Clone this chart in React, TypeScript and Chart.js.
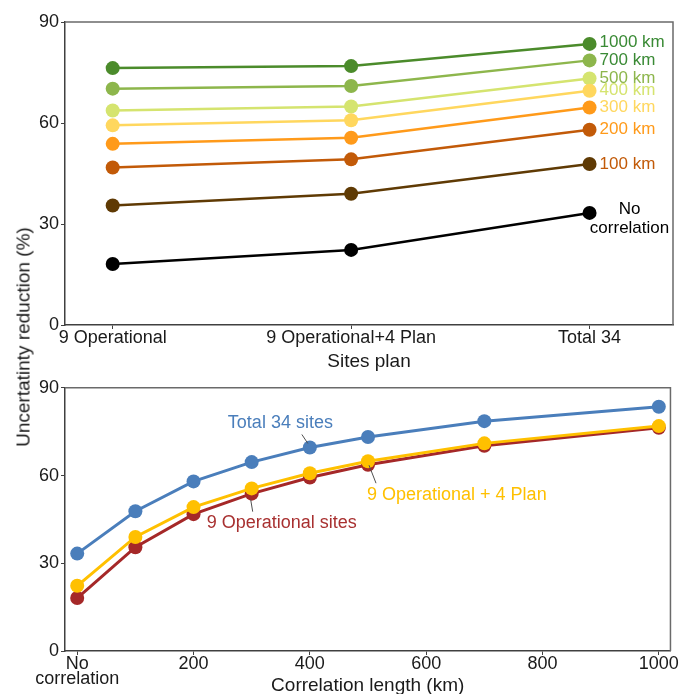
import React, { useEffect, useRef } from 'react';
import { Chart, registerables } from 'chart.js';

Chart.register(...registerables);

// ---------------- data ----------------
const sitePlans = ['9 Operational', '9 Operational+4 Plan', 'Total 34'];
const corrLengthsKm = [0, 100, 200, 300, 400, 500, 700, 1000];
const corrLabels = ['No correlation', '100 km', '200 km', '300 km', '400 km', '500 km', '700 km', '1000 km'];
const reductionOp9 = [18.1, 35.5, 46.8, 53.8, 59.3, 63.7, 70.2, 76.3];
const reductionOp9Plan4 = [22.3, 39.0, 49.2, 55.6, 60.8, 64.9, 71.0, 76.9];
const reductionTotal34 = [33.3, 47.8, 58.0, 64.6, 69.6, 73.2, 78.6, 83.5];
const seriesNames = ['9 Operational sites', '9 Operational + 4 Plan', 'Total 34 sites'];
const yTicks = [0, 30, 60, 90];
const xTicksKm = [0, 200, 400, 600, 800, 1000];
const noCorrTickLabel = ['No', 'correlation'];

// ---------------- styles ----------------
const FONT = '"Liberation Sans", Arial, Helvetica, sans-serif';
const TEXT = '#1a1a1a';
const AXIS = '#404040';
const corrLineColors = ['#000000', '#5f3a04', '#c25a08', '#ff9a1a', '#ffd75e', '#d5e46f', '#8db64c', '#4b8b2b'];
const corrTextColors = ['#000000', '#c25a08', '#ff9a1a', '#ffd75e', '#d5e46f', '#8db64c', '#3a8a35', '#3a8a35'];
const seriesColors = ['#a52828', '#ffc000', '#4a7ebb'];
const seriesTextColors = ['#a83030', '#ffc000', '#4a7ebb'];
// annotation placement relative to an anchor point
const bottomNotes = [
  { s: 2, p: 4, dx: -82, dy: -24, lead: [-8, -13, -2, -4] },
  { s: 0, p: 3, dx: -45, dy: 29, lead: [-1, 6, 1, 18] },
  { s: 1, p: 5, dx: -1, dy: 34, lead: [1, 4, 8, 22] },
];

const boxPlugin = {
  id: 'boxPlugin',
  beforeDatasetsDraw(chart: any) {
    const { ctx, chartArea: a } = chart;
    ctx.save();
    ctx.strokeStyle = '#6a6a6a';
    ctx.lineWidth = 1.5;
    ctx.beginPath();
    ctx.moveTo(a.left, a.top);
    ctx.lineTo(a.right, a.top);
    ctx.lineTo(a.right, a.bottom);
    ctx.stroke();
    ctx.restore();
  },
};

const topLabelPlugin = {
  id: 'topLabels',
  afterDatasetsDraw(chart: any) {
    const { ctx } = chart;
    ctx.save();
    ctx.font = `17px ${FONT}`;
    ctx.textBaseline = 'middle';
    chart.data.datasets.forEach((ds: any, di: number) => {
      const pt = chart.getDatasetMeta(di).data[2];
      if (!pt) return;
      ctx.fillStyle = ds.labelColor;
      if (ds.label === corrLabels[0]) {
        ctx.textAlign = 'center';
        ctx.fillText('No', pt.x + 40, pt.y - 4);
        ctx.fillText('correlation', pt.x + 40, pt.y + 15);
      } else {
        ctx.textAlign = 'left';
        ctx.fillText(ds.label, pt.x + 10, pt.y - (ds.label === corrLabels[7] ? 2 : 0));
      }
    });
    ctx.restore();
  },
};

const bottomLabelPlugin = {
  id: 'bottomLabels',
  afterDatasetsDraw(chart: any) {
    const { ctx } = chart;
    ctx.save();
    bottomNotes.forEach((n) => {
      const pt = chart.getDatasetMeta(n.s).data[n.p];
      if (!pt) return;
      ctx.strokeStyle = '#505050';
      ctx.lineWidth = 1;
      ctx.beginPath();
      ctx.moveTo(pt.x + n.lead[0], pt.y + n.lead[1]);
      ctx.lineTo(pt.x + n.lead[2], pt.y + n.lead[3]);
      ctx.stroke();
      ctx.font = `18px ${FONT}`;
      ctx.textBaseline = 'middle';
      ctx.textAlign = 'left';
      ctx.fillStyle = seriesTextColors[n.s];
      ctx.fillText(seriesNames[n.s], pt.x + n.dx, pt.y + n.dy);
    });
    ctx.restore();
  },
};

const yScale = () => ({
  type: 'linear',
  min: 0,
  max: 90,
  afterFit: (s: any) => {
    s.width = 65;
  },
  afterBuildTicks: (s: any) => {
    s.ticks = yTicks.map((v) => ({ value: v }));
  },
  border: { display: true, color: AXIS, width: 1.5 },
  grid: { display: true, drawOnChartArea: false, drawTicks: true, tickLength: 4, color: AXIS, lineWidth: 1 },
  ticks: { color: TEXT, font: { family: FONT, size: 18 }, padding: 2 },
});

export default function App() {
  const topRef = useRef<HTMLCanvasElement>(null);
  const botRef = useRef<HTMLCanvasElement>(null);

  useEffect(() => {
    const planSeries = [reductionOp9, reductionOp9Plan4, reductionTotal34];
    const topChart = new Chart(topRef.current as HTMLCanvasElement, {
      type: 'line',
      data: {
        datasets: corrLengthsKm.map((_, ci) => ({
          label: corrLabels[ci],
          labelColor: corrTextColors[ci],
          order: ci,
          data: sitePlans.map((_, pi) => ({ x: pi + 1, y: planSeries[pi][ci] })),
          borderColor: corrLineColors[ci],
          backgroundColor: corrLineColors[ci],
          pointBackgroundColor: corrLineColors[ci],
          pointBorderWidth: 0,
          pointRadius: 7,
          borderWidth: 2.5,
          tension: 0,
        })) as any,
      },
      options: {
        responsive: false,
        animation: false,
        events: [],
        layout: { padding: { top: 22, right: 8, left: 0, bottom: 0 } },
        plugins: { legend: { display: false }, tooltip: { enabled: false } },
        scales: {
          x: {
            type: 'linear',
            min: 0.8,
            max: 3.35,
            afterFit: (s: any) => {
              s.height = 50;
            },
            afterBuildTicks: (s: any) => {
              s.ticks = sitePlans.map((_, i) => ({ value: i + 1 }));
            },
            border: { display: true, color: AXIS, width: 1.5 },
            grid: { display: true, drawOnChartArea: false, drawTicks: true, tickLength: 4, color: AXIS, lineWidth: 1 },
            ticks: {
              color: TEXT,
              font: { family: FONT, size: 18, lineHeight: 0.8 },
              padding: 2,
              maxRotation: 0,
              autoSkip: false,
              callback: (v: any) => sitePlans[Math.round(v) - 1] ?? '',
            },
            title: {
              display: true,
              text: 'Sites plan',
              color: TEXT,
              font: { family: FONT, size: 19 },
              padding: { top: 0, bottom: 1.6 },
            },
          } as any,
          y: yScale() as any,
        },
      },
      plugins: [boxPlugin, topLabelPlugin],
    });

    const botChart = new Chart(botRef.current as HTMLCanvasElement, {
      type: 'line',
      data: {
        datasets: planSeries.map((arr, si) => ({
          label: seriesNames[si],
          order: 3 - si,
          data: corrLengthsKm.map((km, j) => ({ x: km, y: arr[j] })),
          borderColor: seriesColors[si],
          backgroundColor: seriesColors[si],
          pointBackgroundColor: seriesColors[si],
          pointBorderWidth: 0,
          pointRadius: 7,
          borderWidth: 3,
          tension: 0,
        })) as any,
      },
      options: {
        responsive: false,
        animation: false,
        events: [],
        layout: { padding: { top: 9, right: 8, left: 0, bottom: 0 } },
        plugins: { legend: { display: false }, tooltip: { enabled: false } },
        scales: {
          x: {
            type: 'linear',
            min: -21,
            max: 1020,
            afterFit: (s: any) => {
              s.height = 49;
            },
            afterBuildTicks: (s: any) => {
              s.ticks = xTicksKm.map((v) => ({ value: v }));
            },
            border: { display: true, color: AXIS, width: 1.5 },
            grid: { display: true, drawOnChartArea: false, drawTicks: true, tickLength: 4, color: AXIS, lineWidth: 1 },
            ticks: {
              color: TEXT,
              font: { family: FONT, size: 18, lineHeight: 0.8 },
              padding: 2,
              maxRotation: 0,
              autoSkip: false,
              callback: (v: any) => (v === 0 ? noCorrTickLabel : String(v)),
            },
            title: {
              display: true,
              text: 'Correlation length (km)',
              color: TEXT,
              font: { family: FONT, size: 19 },
              padding: { top: 0, bottom: 2.6 },
            },
          } as any,
          y: yScale() as any,
        },
      },
      plugins: [boxPlugin, bottomLabelPlugin],
    });

    return () => {
      topChart.destroy();
      botChart.destroy();
    };
  }, []);

  return (
    <div
      style={{
        position: 'absolute',
        left: 0,
        top: 0,
        width: 681,
        height: 694,
        overflow: 'hidden',
        background: '#ffffff',
      }}
    >
      <canvas ref={topRef} width={681} height={375} style={{ position: 'absolute', left: 0, top: 0, display: 'block' }} />
      <canvas ref={botRef} width={681} height={325} style={{ position: 'absolute', left: 0, top: 375, display: 'block' }} />
      <div
        style={{
          position: 'absolute',
          left: 23,
          top: 337,
          transform: 'translate(-50%, -50%) rotate(-90deg)',
          whiteSpace: 'nowrap',
          fontFamily: FONT,
          fontSize: 19,
          color: TEXT,
          lineHeight: 1,
        }}
      >
        Uncertatinty reduction (%)
      </div>
    </div>
  );
}
